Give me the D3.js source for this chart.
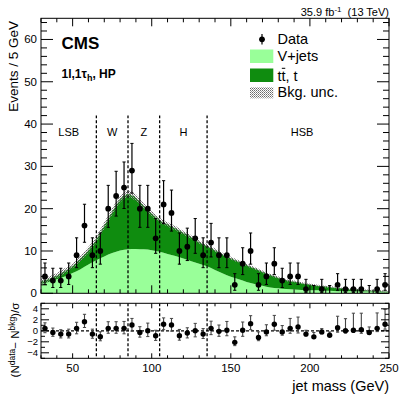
<!DOCTYPE html>
<html><head><meta charset="utf-8">
<script src="https://cdn.jsdelivr.net/npm/d3@7"></script>
<style>
body{margin:0;background:#fff}
svg{display:block}
text{font-family:"Liberation Sans",Arial,Helvetica,sans-serif;fill:#000}
</style>
</head><body><svg id="c" width="411" height="399"></svg>
<script>
// ---------- data ----------
const binCenters = [32.5,37.5,42.5,47.5,52.5,57.5,62.5,67.5,72.5,77.5,82.5,87.5,92.5,97.5,102.5,107.5,112.5,117.5,122.5,127.5,132.5,137.5,142.5,147.5,152.5,157.5,162.5,167.5,172.5,177.5,182.5,187.5,192.5,197.5,202.5,207.5,212.5,217.5,222.5,227.5,232.5,237.5,242.5,247.5];
const dataCounts = [4,3,3,4,9,16,9,10,20,23,25,29,20,20,13,21,19,10,11,13,9,12,9,9,2,7,10,2,4,7,3,4,4,1,0,1,0,2,1,1,1,0,1,2];
const dataErrLow = [1.91,1.63,1.63,1.91,2.94,3.94,2.94,3.11,4.41,4.75,4.95,5.33,4.41,4.41,3.55,4.53,4.30,3.11,3.26,3.55,2.94,3.41,2.94,2.94,1.29,2.58,3.11,1.29,1.91,2.58,1.63,1.91,1.91,0.83,0,0.83,0,1.29,0.83,0.83,0.83,0,0.83,1.29];
const dataErrHigh = [3.16,2.92,2.92,3.16,4.11,5.05,4.11,4.26,5.51,5.84,6.04,6.43,5.51,5.51,4.67,5.62,5.40,4.26,4.40,4.67,4.11,4.53,4.11,4.11,2.64,3.77,4.26,2.64,3.16,3.77,2.92,3.16,3.16,2.30,1.84,2.30,1.84,2.64,2.30,2.30,2.30,1.84,2.30,2.64];

const bkgMass = [30,35,40,45,50,55,60,65,70,75,80,85,90,95,100,105,110,115,120,125,130,135,140,145,150,155,160,165,170,175,180,185,190,195,200,205,210,215,220,225,230,235,240,245,250];
const totalBkg = [2.8,3.4,4.2,5.3,6.5,8.2,10.3,12.8,16.0,19.3,22.2,23.5,22.6,20.6,18.9,17.3,16.3,15.4,14.3,13.3,12.1,11.2,10.2,9.2,8.3,7.5,6.7,5.9,5.1,4.3,3.7,3.1,2.8,2.4,2.1,1.8,1.6,1.4,1.2,1.0,0.9,0.75,0.6,0.5,0.4];
const vjetsBkg = [2.2,2.7,3.3,4.0,4.8,5.7,6.8,7.8,8.7,9.5,10.1,10.4,10.5,10.4,10.2,9.8,9.3,8.8,8.2,7.6,7.0,6.4,5.5,4.7,3.9,3.3,2.7,2.2,1.8,1.4,1.2,1.0,0.9,0.8,0.75,0.7,0.6,0.55,0.5,0.5,0.45,0.4,0.35,0.3,0.3];
const bkgUnc = [0.6,0.6,0.6,0.6,0.6,0.65,0.7,0.75,0.8,0.8,0.8,0.8,0.8,0.7,0.6,0.55,0.5,0.5,0.45,0.45,0.4,0.4,0.4,0.35,0.35,0.3,0.3,0.3,0.3,0.25,0.25,0.25,0.25,0.2,0.2,0.2,0.2,0.2,0.2,0.2,0.2,0.2,0.2,0.2,0.2];

const pullValues = [0.45,-0.3,-0.6,-0.6,0.45,1.65,-0.6,-1.07,0.45,0.45,0.45,1.05,-0.3,0,-0.9,1.2,1.05,-0.9,-0.4,0,-0.6,0.45,-0.1,0.1,-2.1,0.1,1.3,-1.2,-0.2,1.2,-0.2,0.45,0.7,-0.6,-1.1,-0.2,-0.8,0.55,0,0.1,0.2,-0.3,0.45,1.2];
const pullErrUp = [1.0,0.8,0.8,0.9,1.1,1.35,0.9,0.9,1.2,1.2,1.25,1.2,1.05,1.4,1.0,1.15,1.2,1.15,0.95,1.35,1.0,1.3,1.15,1.6,1.0,1.5,1.45,1.0,1.3,1.6,1.15,1.8,1.8,0.7,0.8,0.6,0.6,2.1,2.2,3.1,3.0,1.0,2.8,2.7];
const pullErrDown = [0.8,0.7,0.7,0.7,1.0,1.05,0.75,0.75,0.9,0.9,1.0,1.1,0.85,1.05,0.85,1.0,1.1,0.8,0.9,1.1,0.8,1.15,0.9,1.0,0.6,1.1,1.1,0.6,0.7,1.1,0.6,0.9,1.1,0.35,0,0.35,0,0.8,0.4,0.4,0.65,0.35,0.6,0.9];

const regionEdges = [65,85,105,135];
const regionLabels = ["LSB","W","Z","H","HSB"];
const regionLabelMass = [47.5,75,95,120,195];
const yTicksTop = [0,10,20,30,40,50,60];
const xTicks = [50,100,150,200,250];
const pullTicks = [-4,-2,0,2,4];

// ---------- layout ----------
const svg = d3.select("#c");
const X0=41, X1=389, YT0=18.3, YT1=293.3, YB0=303.3, YB1=358.3;
const x = d3.scaleLinear().domain([30,250]).range([X0,X1]);
const y = d3.scaleLinear().domain([0,65]).range([YT1,YT0]);
const yp = d3.scaleLinear().domain([-5,5]).range([YB1,YB0]);

const defs = svg.append("defs");
defs.append("clipPath").attr("id","clipTop").append("rect")
  .attr("x",X0).attr("y",YT0).attr("width",X1-X0).attr("height",YT1-YT0);
defs.append("clipPath").attr("id","clipBot").append("rect")
  .attr("x",X0).attr("y",YB0).attr("width",X1-X0).attr("height",YB1-YB0);
const pat = defs.append("pattern").attr("id","hatch").attr("patternUnits","userSpaceOnUse")
  .attr("width",2).attr("height",2);
pat.append("rect").attr("x",0).attr("y",0).attr("width",1).attr("height",1).attr("fill","#6a6a6a");
pat.append("rect").attr("x",1).attr("y",1).attr("width",1).attr("height",1).attr("fill","#9a9a9a");

// ---------- upper panel ----------
const gTop = svg.append("g").attr("clip-path","url(#clipTop)");
const bkgPts = bkgMass.map((m,i)=>({m, t: totalBkg[i], v: vjetsBkg[i], u: bkgUnc[i]}));
gTop.append("path").datum(bkgPts)
  .attr("d", d3.area().x(d=>x(d.m)).y0(y(0)).y1(d=>y(d.v)).curve(d3.curveMonotoneX))
  .attr("fill","#99ff99");
gTop.append("path").datum(bkgPts)
  .attr("d", d3.area().x(d=>x(d.m)).y0(d=>y(d.v)).y1(d=>y(d.t)).curve(d3.curveMonotoneX))
  .attr("fill","#0f8c0f");
gTop.append("path").datum(bkgPts)
  .attr("d", d3.area().x(d=>x(d.m)).y0(d=>y(d.t-d.u)).y1(d=>y(d.t+d.u)).curve(d3.curveMonotoneX))
  .attr("fill","url(#hatch)");

// region lines
regionEdges.forEach(m=>{
  gTop.append("line").attr("x1",x(m)).attr("x2",x(m)).attr("y1",y(0)).attr("y2",y(42))
    .attr("stroke","#000").attr("stroke-width",1.3).attr("stroke-dasharray","3,2");
});
regionLabels.forEach((t,i)=>{
  svg.append("text").attr("x",x(regionLabelMass[i])).attr("y",136).attr("text-anchor","middle")
    .attr("font-size",11).text(t);
});

// data
const capW = 1.6;
binCenters.forEach((m,i)=>{
  const n = dataCounts[i];
  const lo = n - dataErrLow[i], hi = n + dataErrHigh[i];
  const xc = x(m);
  gTop.append("line").attr("x1",xc).attr("x2",xc).attr("y1",y(lo)).attr("y2",y(hi))
    .attr("stroke","#000").attr("stroke-width",1.2);
  gTop.append("line").attr("x1",xc-capW).attr("x2",xc+capW).attr("y1",y(hi)).attr("y2",y(hi))
    .attr("stroke","#000").attr("stroke-width",1);
  if (dataErrLow[i] > 0) {
    gTop.append("line").attr("x1",xc-capW).attr("x2",xc+capW).attr("y1",y(lo)).attr("y2",y(lo))
      .attr("stroke","#000").attr("stroke-width",1);
  }
  if (n > 0) gTop.append("circle").attr("cx",xc).attr("cy",y(n)).attr("r",2.9).attr("fill","#000");
});

// ---------- lower panel ----------
const gBot = svg.append("g").attr("clip-path","url(#clipBot)");
gBot.append("line").attr("x1",X0).attr("x2",X1).attr("y1",yp(0)).attr("y2",yp(0))
  .attr("stroke","#000").attr("stroke-width",1.2).attr("stroke-dasharray","3,2");
regionEdges.forEach(m=>{
  gBot.append("line").attr("x1",x(m)).attr("x2",x(m)).attr("y1",YB0).attr("y2",YB1)
    .attr("stroke","#000").attr("stroke-width",1.3).attr("stroke-dasharray","3,2");
});
binCenters.forEach((m,i)=>{
  const p = pullValues[i];
  const lo = p - pullErrDown[i], hi = p + pullErrUp[i];
  const xc = x(m);
  gBot.append("line").attr("x1",xc).attr("x2",xc).attr("y1",yp(lo)).attr("y2",yp(hi))
    .attr("stroke","#444").attr("stroke-width",1.1);
  gBot.append("line").attr("x1",xc-capW).attr("x2",xc+capW).attr("y1",yp(hi)).attr("y2",yp(hi))
    .attr("stroke","#444").attr("stroke-width",1);
  if (pullErrDown[i] > 0) gBot.append("line").attr("x1",xc-capW).attr("x2",xc+capW).attr("y1",yp(lo)).attr("y2",yp(lo))
    .attr("stroke","#444").attr("stroke-width",1);
  gBot.append("circle").attr("cx",xc).attr("cy",yp(p)).attr("r",2.7).attr("fill","#000");
});

// ---------- axes / frames ----------
function tickLines(g, vals, pos, isVertAxis, fixed, len, dir){
  vals.forEach(v=>{
    const p = pos(v);
    if (isVertAxis) g.append("line").attr("x1",fixed).attr("x2",fixed+dir*len).attr("y1",p).attr("y2",p);
    else g.append("line").attr("y1",fixed).attr("y2",fixed+dir*len).attr("x1",p).attr("x2",p);
  });
}
const axG = svg.append("g").attr("stroke","#000").attr("stroke-width",1);
const minorTopY = d3.range(0,65.01,2).filter(v=>v%10!==0);
const minorX = d3.range(30,250.01,10).filter(v=>v%50!==0);
const minorPull = d3.range(-5,5.01,1).filter(v=>v%2!==0 || Math.abs(v)>4);
// upper
tickLines(axG, yTicksTop, y, true, X0, 12, 1);
tickLines(axG, minorTopY, y, true, X0, 6, 1);
tickLines(axG, yTicksTop, y, true, X1, 12, -1);
tickLines(axG, minorTopY, y, true, X1, 6, -1);
tickLines(axG, xTicks, x, false, YT1, 8, -1);
tickLines(axG, minorX, x, false, YT1, 4, -1);
tickLines(axG, xTicks, x, false, YT0, 8, 1);
tickLines(axG, minorX, x, false, YT0, 4, 1);
// lower
tickLines(axG, pullTicks, yp, true, X0, 8, 1);
tickLines(axG, minorPull, yp, true, X0, 4, 1);
tickLines(axG, pullTicks, yp, true, X1, 8, -1);
tickLines(axG, minorPull, yp, true, X1, 4, -1);
tickLines(axG, xTicks, x, false, YB1, 5, -1);
tickLines(axG, minorX, x, false, YB1, 3, -1);
tickLines(axG, xTicks, x, false, YB0, 5, 1);
tickLines(axG, minorX, x, false, YB0, 3, 1);

svg.append("rect").attr("x",X0).attr("y",YT0).attr("width",X1-X0).attr("height",YT1-YT0)
  .attr("fill","none").attr("stroke","#000").attr("stroke-width",1);
svg.append("rect").attr("x",X0).attr("y",YB0).attr("width",X1-X0).attr("height",YB1-YB0)
  .attr("fill","none").attr("stroke","#000").attr("stroke-width",1);

// tick labels
yTicksTop.forEach(v=>{
  svg.append("text").attr("x",37).attr("y",y(v)+4).attr("text-anchor","end").attr("font-size",11.5).text(v);
});
pullTicks.forEach(v=>{
  svg.append("text").attr("x",38).attr("y",yp(v)+3.3).attr("text-anchor","end").attr("font-size",9.5)
    .text(v<0 ? "\u2212"+Math.abs(v) : v);
});
xTicks.forEach(v=>{
  svg.append("text").attr("x",x(v)).attr("y",372).attr("text-anchor","middle").attr("font-size",11.5).text(v);
});

// axis titles
svg.append("text").attr("text-anchor","end").attr("font-size",13.5)
  .attr("transform","translate(18.3,21) rotate(-90)").text("Events / 5 GeV");
svg.append("text").attr("x",389).attr("y",391).attr("text-anchor","end").attr("font-size",14.5).text("jet mass (GeV)");
const pl = svg.append("text").attr("text-anchor","middle").attr("font-size",11.5)
  .attr("transform","translate(19,340) rotate(-90)");
pl.append("tspan").text("(N");
pl.append("tspan").attr("font-size",8.5).attr("dy",-4.5).text("data");
pl.append("tspan").attr("dy",4.5).text("\u2212 N");
pl.append("tspan").attr("font-size",8.5).attr("dy",-4.5).text("bkg");
pl.append("tspan").attr("dy",4.5).text(")/\u03c3");

// top right lumi
const lumi = svg.append("text").attr("x",389).attr("y",15.5).attr("text-anchor","end").attr("font-size",11);
lumi.append("tspan").text("35.9 fb");
lumi.append("tspan").attr("font-size",8).attr("dy",-4).text("-1");
lumi.append("tspan").attr("dy",4).text("\u00a0\u00a0(13 TeV)");

// CMS
svg.append("text").attr("x",61.5).attr("y",49).attr("font-size",17).attr("font-weight","bold").text("CMS");
const ch = svg.append("text").attr("x",61.5).attr("y",77.5).attr("font-size",12).attr("font-weight","bold");
ch.append("tspan").text("1l,1\u03c4");
ch.append("tspan").attr("font-size",9).attr("dy",3).text("h");
ch.append("tspan").attr("dy",-3).text(", HP");

// legend
const lx = 250, lw = 23.3, tx = 277.5;
svg.append("line").attr("x1",262).attr("x2",262).attr("y1",34).attr("y2",44.5).attr("stroke","#000").attr("stroke-width",1.2);
svg.append("circle").attr("cx",262).attr("cy",39.3).attr("r",2.9).attr("fill","#000");
svg.append("text").attr("x",tx).attr("y",44.3).attr("font-size",14.5).text("Data");
svg.append("rect").attr("x",lx).attr("y",49.5).attr("width",lw).attr("height",13.5).attr("fill","#99ff99");
svg.append("text").attr("x",tx).attr("y",61).attr("font-size",14.5).text("V+jets");
svg.append("rect").attr("x",lx).attr("y",68.5).attr("width",lw).attr("height",13.5).attr("fill","#0f8c0f");
const ttText = svg.append("text").attr("x",tx).attr("y",80.5).attr("font-size",14.5).text("tt, t");
svg.append("rect").attr("x",lx).attr("y",87.3).attr("width",lw).attr("height",11).attr("fill","url(#hatch)");
svg.append("text").attr("x",tx).attr("y",97).attr("font-size",14.5).text("Bkg. unc.");
// bar over the second t of tt
{
  const tmp = svg.append("text").attr("font-size",14.5).text("t");
  const tw = tmp.node().getComputedTextLength();
  tmp.remove();
  svg.append("line").attr("x1",tx+tw+0.3).attr("x2",tx+2*tw-0.3).attr("y1",68.3).attr("y2",68.3)
    .attr("stroke","#000").attr("stroke-width",1);
}
</script>
</body></html>
